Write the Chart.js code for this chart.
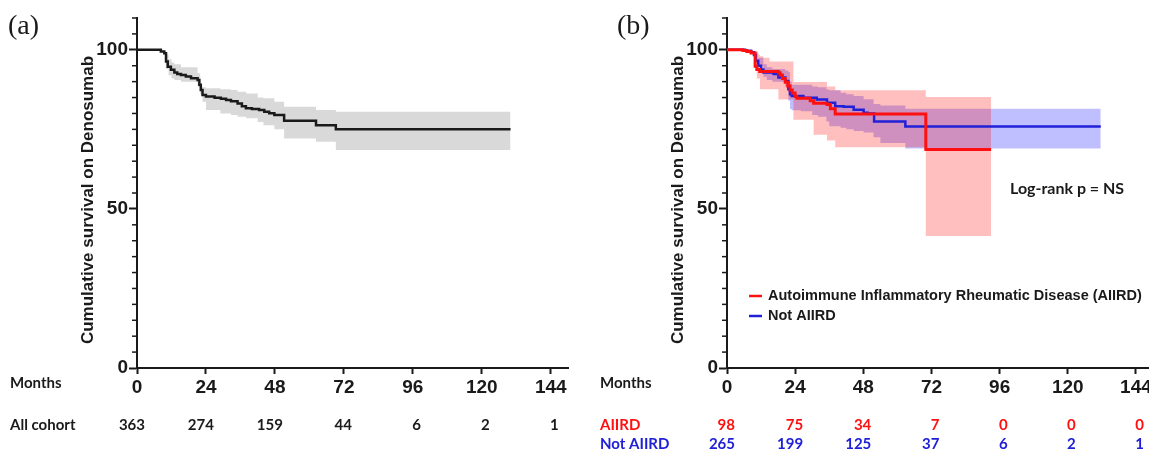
<!DOCTYPE html>
<html>
<head>
<meta charset="utf-8">
<script src="https://cdn.jsdelivr.net/npm/chart.js@4.4.1/dist/chart.umd.min.js"></script>
<style>
html,body{margin:0;padding:0;background:#fff;overflow:hidden}
body{width:1149px;height:451px;position:relative}
.panel{position:absolute;top:0;height:451px}
#pa{left:0;width:580px}
#pb{left:590px;width:570px}
</style>
</head>
<body>
<div class="panel" id="pa"><canvas id="ca"></canvas></div>
<div class="panel" id="pb"><canvas id="cb"></canvas></div>
<script>
/* ---------- data ---------- */
const xTicks  = [0, 24, 48, 72, 96, 120, 144];
const yLabels = [0, 50, 100];

// (a) whole cohort
const tAll = [0, 8.3, 9.5, 10.1, 10.7, 11.8, 13, 14, 15.3, 17, 18.8, 21.1, 21.7, 22.2, 22.8, 24, 27, 29.2, 31, 32.7, 35, 36.5, 37.9, 40, 42.5, 44.3, 46, 47.8, 51.2, 62.3, 69.2, 130];
const sAll = [100, 99.5, 98.9, 96.3, 94.7, 93.7, 92.9, 92.4, 92.1, 91.6, 91.1, 90.5, 89, 87.4, 85.8, 85.3, 84.9, 84.6, 84.2, 83.8, 83.1, 82.3, 81.6, 81.4, 81.1, 80.5, 80.1, 79.5, 77.7, 76.3, 75, 75];
const bandAllT  = [0, 10, 11, 12, 13, 15.3, 21.1, 22, 22.8, 24, 29, 32.7, 35, 38, 42, 44, 47.8, 51.2, 62.3, 69.2, 130];
const bandAllHi = [100, 98.5, 97, 96, 95.5, 94.5, 92.6, 88.4, 88.2, 87.9, 87.6, 87.4, 86.8, 86.3, 85, 84.8, 83.7, 82.1, 81.1, 80.5, 80.5];
const bandAllLo = [100, 94, 92, 91, 90.5, 90, 88.4, 86, 83.7, 81.1, 80, 79.5, 79, 78.5, 77.3, 76.3, 75, 72.1, 71.1, 68.5, 68.5];
const riskAll = [363, 274, 159, 44, 6, 2, 1];

// (b) AIIRD vs not
const tAi = [0, 5.6, 7, 8.5, 9.9, 10.5, 11.5, 18.1, 18.7, 19.5, 20.5, 21.4, 22.2, 23, 24, 24.6, 29.3, 30.5, 35.2, 36.4, 38.1, 70, 93];
const sAi = [100, 99.8, 99.5, 99, 94.8, 93.8, 93.2, 92.8, 92.1, 91, 89.8, 88.6, 87.4, 86.4, 85.3, 84.8, 84, 83.2, 82.8, 81.5, 79.8, 68.7, 68.7];
const tNot = [0, 6.4, 8.5, 9.5, 10.2, 11, 12, 12.8, 16.4, 18.1, 20.5, 21.6, 22.2, 22.8, 26.9, 31.6, 35.2, 38.1, 41.1, 44.6, 48.1, 49.5, 51.8, 62.8, 131.6];
const sNot = [100, 99.7, 99.2, 98.4, 96.6, 95, 93.8, 92.9, 92.4, 91.3, 90.2, 87.6, 86, 85.5, 84.9, 84.4, 83.4, 82.3, 82.1, 81.2, 80.2, 80, 77.5, 75.9, 75.9];
const bandAiT  = [0, 9.3, 9.9, 10.5, 11.6, 12.8, 15, 18.1, 23.4, 30.5, 35.2, 38.1, 70, 93];
const bandAiHi = [100, 99.5, 99, 98.5, 98, 97.5, 96.3, 96.3, 89.9, 89.9, 88.5, 87.3, 85.2, 85.2];
const bandAiLo = [100, 99, 95, 91, 87.6, 87.6, 87.6, 84.4, 78, 73.3, 71.5, 69.4, 41.5, 41.5];
const bandNotT  = [0, 9.5, 11, 12.8, 14, 16, 20.5, 21.6, 22.2, 22.8, 26, 30, 32, 35, 36, 40, 42, 44.6, 48.1, 51.6, 54, 62.8, 131.6];
const bandNotHi = [100, 99.5, 97.5, 95.5, 94.5, 94, 93.5, 93, 90, 89, 89, 88.5, 88.2, 87.5, 87.3, 86.5, 86, 85.5, 84.5, 83, 82.5, 81.5, 81.5];
const bandNotLo = [100, 98.5, 95, 91.5, 90.5, 90, 88.5, 84, 81.4, 81, 80.7, 79.5, 79, 77.5, 76, 75.5, 75, 74.5, 74, 72.5, 70.7, 69, 69];
const riskAi  = [98, 75, 34, 7, 0, 0, 0];
const riskNot = [265, 199, 125, 37, 6, 2, 1];

/* ---------- helpers ---------- */
const INK  = '#1a1a1a';
const RED  = '#ff1010';
const BLUE = '#2020d8';
const SANS = '"Liberation Sans", Arial, sans-serif';
const CAL  = 'Lato, "Open Sans", sans-serif';

const pts = (t, v) => t.map((x, i) => ({x, y: v[i]}));

function line(t, v, color, w){
  return {data: pts(t, v), borderColor: color, borderWidth: w, stepped: true,
          pointRadius: 0, fill: false};
}
function band(t, v, bg, fill){
  return {data: pts(t, v), borderWidth: 0, borderColor: 'rgba(0,0,0,0)', stepped: true,
          pointRadius: 0, backgroundColor: bg, fill: fill};
}

function scales(){
  const grid = {display: true, drawOnChartArea: false, drawTicks: true, tickWidth: 2, tickColor: INK};
  const border = {display: true, width: 2, color: INK};
  const font = {family: SANS, size: 19, weight: 'bold'};
  return {
    x: {type: 'linear', min: 0, max: 150,
        afterBuildTicks: ax => { ax.ticks = xTicks.map(v => ({value: v})); },
        afterFit: ax => { ax.height = 83; },
        grid: {...grid, tickLength: 6}, border,
        ticks: {color: INK, font, padding: 2, maxRotation: 0, autoSkip: false}},
    y: {type: 'linear', min: 0, max: 110,
        afterBuildTicks: ax => { ax.ticks = yLabels.map(v => ({value: v})); },
        afterFit: ax => { ax.width = 137; },
        grid: {...grid, tickLength: 8}, border,
        ticks: {color: INK, font, padding: 1, autoSkip: false}}
  };
}

/* texts, minor ticks, risk table */
function decor(o){
  return {
    id: 'decor' + o.letter,
    afterDraw(chart){
      const ctx = chart.ctx, xs = chart.scales.x, ys = chart.scales.y;
      ctx.save();
      // minor y ticks
      ctx.strokeStyle = INK; ctx.lineWidth = 1.5;
      for(let v = 5; v <= 110; v += 5){
        if(v % 50 === 0) continue;
        const y = ys.getPixelForValue(v);
        ctx.beginPath(); ctx.moveTo(xs.left - 5, y); ctx.lineTo(xs.left, y); ctx.stroke();
      }
      ctx.fillStyle = INK;
      // panel letter
      ctx.font = '28px "Liberation Serif", "Times New Roman", serif';
      ctx.textAlign = 'left'; ctx.textBaseline = 'alphabetic';
      ctx.fillText('(' + o.letter + ')', o.letterX, 34);
      // y title
      ctx.save();
      ctx.translate(88, 200); ctx.rotate(-Math.PI / 2);
      ctx.font = 'bold 17px ' + SANS; ctx.textAlign = 'center'; ctx.textBaseline = 'middle';
      ctx.fillText('Cumulative survival on Denosumab', 0, 0);
      ctx.restore();
      // months + risk table
      ctx.textBaseline = 'middle';
      ctx.font = 'bold 15px ' + CAL;
      ctx.textAlign = 'left';
      ctx.fillText('Months', 10, 383);
      o.rows.forEach(r => {
        ctx.fillStyle = r.color;
        ctx.font = 'bold 15px ' + CAL; ctx.textAlign = 'left';
        ctx.fillText(r.label, 10, r.y);
        ctx.font = 'bold 15px ' + CAL; ctx.textAlign = 'right';
        r.vals.forEach((v, i) => ctx.fillText(String(v), xs.getPixelForValue(xTicks[i]) + 8, r.y));
      });
      if(o.extra) o.extra(ctx, xs, ys);
      ctx.restore();
    }
  };
}

function makeChart(id, datasets, padRight, deco){
  return new Chart(document.getElementById(id), {
    type: 'line',
    data: {datasets},
    options: {
      responsive: true, maintainAspectRatio: false, animation: false,
      layout: {padding: {top: 18, right: padRight, left: 0, bottom: 0}},
      plugins: {legend: {display: false}, tooltip: {enabled: false}},
      scales: scales()
    },
    plugins: [deco]
  });
}

/* ---------- (a) ---------- */
makeChart('ca', [
  line(tAll, sAll, INK, 2.5),
  band(bandAllT, bandAllHi, '#d9d9d9', '+1'),
  band(bandAllT, bandAllLo, '#d9d9d9', false)
], 12, decor({letter: 'a', letterX: 8,
  rows: [{label: 'All cohort', y: 425, color: INK, vals: riskAll}]}));

/* ---------- (b) ---------- */
makeChart('cb', [
  line(tAi, sAi, RED, 3),
  line(tNot, sNot, BLUE, 2.5),
  band(bandAiT, bandAiHi, 'rgba(255,0,0,0.25)', '+1'),
  band(bandAiT, bandAiLo, 'rgba(255,0,0,0.25)', false),
  band(bandNotT, bandNotHi, 'rgba(0,0,255,0.25)', '+1'),
  band(bandNotT, bandNotLo, 'rgba(0,0,255,0.25)', false)
], 7, decor({letter: 'b', letterX: 27,
  rows: [{label: 'AIIRD', y: 425, color: RED, vals: riskAi},
         {label: 'Not AIIRD', y: 444, color: BLUE, vals: riskNot}],
  extra(ctx){
    ctx.fillStyle = INK;
    ctx.font = 'bold 16px ' + CAL; ctx.textAlign = 'left'; ctx.textBaseline = 'middle';
    ctx.fillText('Log-rank p = NS', 420, 189);
    ctx.font = 'bold 14.5px ' + SANS;
    [['Autoimmune Inflammatory Rheumatic Disease (AIIRD)', RED, 296],
     ['Not AIIRD', BLUE, 316]].forEach(([txt, c, y]) => {
      ctx.strokeStyle = c; ctx.lineWidth = 2.5;
      ctx.beginPath(); ctx.moveTo(159, y); ctx.lineTo(172, y); ctx.stroke();
      ctx.fillStyle = INK; ctx.fillText(txt, 178, y);
    });
  }}));
</script>
</body>
</html>
